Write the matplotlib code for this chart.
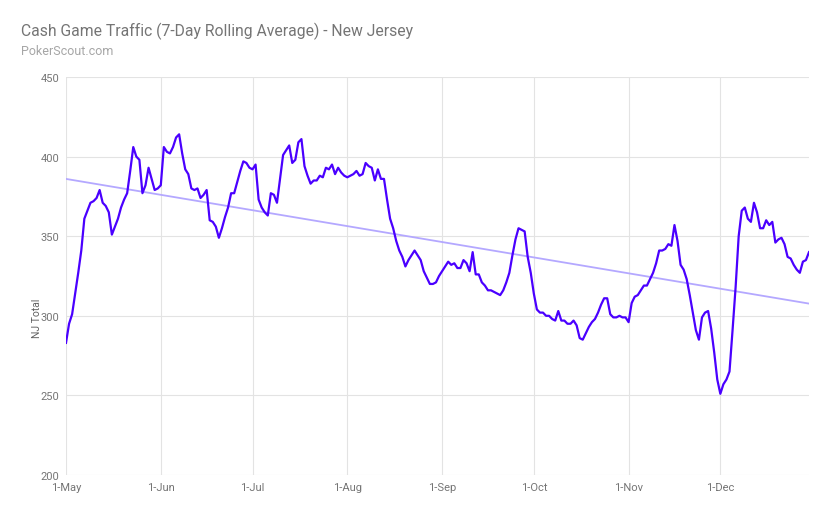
import datetime as dt
import numpy as np
import matplotlib
matplotlib.use("Agg")
import matplotlib.pyplot as plt
import matplotlib.dates as mdates

plt.rcParams['font.family'] = ['Roboto', 'DejaVu Sans']

# daily 7-day rolling average, starting 1 May
start = dt.date(2019, 5, 1)
nj_total = [
    283, 295, 301, 314, 327, 341, 361, 366, 371, 372,
    374, 379, 371, 369, 365, 351, 356, 361, 368, 373,
    377, 391, 406, 400, 398, 377, 382, 393, 386, 379,
    380, 382, 406, 403, 402, 406, 412, 414, 402, 392,
    389, 380, 379, 380, 374, 376, 379, 360, 359, 356,
    349, 355, 362, 368, 377, 377, 384, 391, 397, 396,
    393, 392, 395, 373, 368, 365, 363, 377, 376, 371,
    386, 401, 404, 407, 396, 398, 409, 411, 394, 388,
    383, 385, 385, 388, 387, 393, 392, 395, 389, 393,
    390, 388, 387, 388, 389, 391, 388, 389, 396, 394,
    393, 385, 392, 386, 386, 373, 361, 355, 347, 341,
    337, 331, 335, 338, 341, 338, 335, 328, 324, 320,
    320, 321, 325, 328, 331, 334, 332, 333, 330, 330,
    335, 333, 328, 340, 326, 326, 321, 319, 316, 316,
    315, 314, 313, 316, 321, 327, 338, 348, 355, 354,
    353, 337, 327, 314, 304, 302, 302, 300, 300, 298,
    297, 303, 297, 297, 295, 295, 297, 294, 286, 285,
    289, 293, 296, 298, 302, 307, 311, 311, 301, 299,
    299, 300, 299, 299, 296, 308, 312, 313, 316, 319,
    319, 323, 327, 333, 341, 341, 342, 345, 344, 357,
    347, 332, 329, 323, 313, 302, 291, 285, 299, 302,
    303, 292, 277, 260, 251, 257, 260, 265, 291, 318,
    350, 366, 368, 361, 359, 371, 365, 355, 355, 360,
    357, 359, 346, 348, 349, 345, 337, 336, 332, 329,
    327, 334, 335, 340,
]
dates = [start + dt.timedelta(days=i) for i in range(len(nj_total))]
month_ticks = [dt.date(2019, m, 1) for m in range(5, 13)]
y_ticks = [200, 250, 300, 350, 400, 450]

fig = plt.figure(figsize=(8.28, 5.10), dpi=100)
ax = fig.add_axes([66 / 828, 1 - 476 / 510, (809 - 66) / 828, (476 - 78) / 510])

# linear trend line over the series
x_num = mdates.date2num(dates)
coef = np.polyfit(x_num, nj_total, 1)
ax.plot(dates, np.polyval(coef, x_num), color='#b4a8ff', lw=1.3, zorder=2)

ax.plot(dates, nj_total, color='#4a00ff', lw=1.6, zorder=3)

ax.set_xlim(dates[0], dates[-1])
ax.set_ylim(200, 450)
ax.set_yticks(y_ticks)
ax.set_xticks(month_ticks)
ax.xaxis.set_major_formatter(mdates.DateFormatter('1-%b'))
ax.grid(True, color='#e3e3e3', lw=0.8)
ax.set_axisbelow(True)
for s in ax.spines.values():
    s.set_visible(False)
ax.tick_params(length=0, labelsize=8, colors='#757575', pad=5)

fig.text(21 / 828, 1 - 36 / 510, 'Cash Game Traffic (7-Day Rolling Average) - New Jersey',
         fontsize=11.3, color='#757575', va='baseline')
fig.text(21 / 828, 1 - 55 / 510, 'PokerScout.com', fontsize=9, color='#a6a6a6', va='baseline')
fig.text(37 / 828, 1 - 318 / 510, 'NJ Total', rotation=90, fontsize=7.5,
         color='#616161', ha='center', va='center')

fig.savefig('out.png', dpi=100)
